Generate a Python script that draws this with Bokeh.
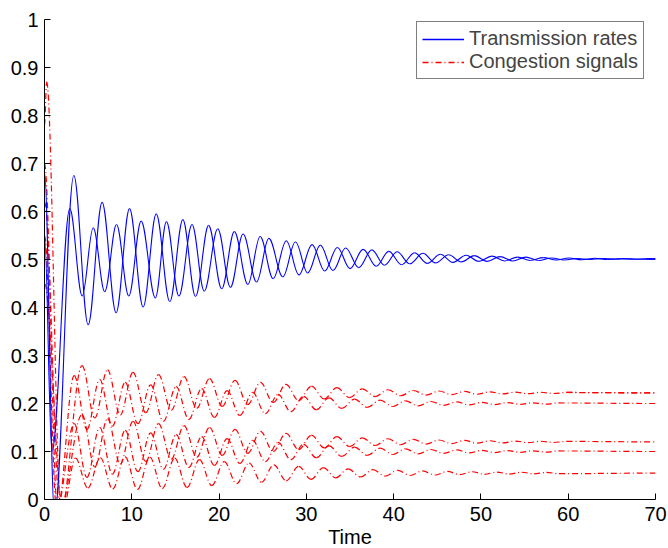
from bokeh.plotting import figure
from bokeh.models import Range1d, FixedTicker, ColumnDataSource, Legend, LegendItem
from bokeh.embed import file_html
from bokeh.resources import INLINE

# ---------------- data (extrema of each curve) ----------------
x_ticks = [0, 10, 20, 30, 40, 50, 60, 70]
x_tick_labels = ["0", "10", "20", "30", "40", "50", "60", "70"]
y_ticks = [0, 0.1, 0.2, 0.3, 0.4, 0.5, 0.6, 0.7, 0.8, 0.9, 1.0]
y_tick_labels = ["0", "0.1", "0.2", "0.3", "0.4", "0.5", "0.6", "0.7", "0.8", "0.9", "1"]

# Transmission rates (blue), source A
rate_a_t = [0, 1.15, 3.36, 5.0, 6.6, 8.2, 9.74, 11.3, 12.8, 14.35, 15.85, 17.3, 18.8, 20.3,
            21.75, 23.3, 24.7, 26.2, 27.7, 29.15, 30.65, 32.1, 33.55, 35.0, 36.5, 38.0, 39.45,
            40.9, 42.4, 43.85, 45.35, 46.8, 48.3, 49.75, 51.25, 52.7, 54.2, 55.65, 57.15, 58.6,
            60.1, 61.55, 63.05, 64.5, 66.0, 67.45, 68.95, 70]
rate_a_v = [0.68, -0.03, 0.675, 0.364, 0.619, 0.389, 0.606, 0.401, 0.595, 0.412, 0.583, 0.423,
            0.571, 0.439, 0.558, 0.448, 0.548, 0.46, 0.539, 0.468, 0.531, 0.476, 0.525, 0.481,
            0.521, 0.486, 0.517, 0.489, 0.514, 0.492, 0.511, 0.494, 0.509, 0.496, 0.507, 0.497,
            0.505, 0.498, 0.504, 0.499, 0.503, 0.4995, 0.5025, 0.5, 0.502, 0.5005, 0.5015, 0.501]

# Transmission rates (blue), source B
rate_b_t = [0, 0.85, 2.9, 4.32, 5.58, 6.9, 8.25, 9.66, 11.07, 12.7, 13.97, 15.4, 16.9, 18.3,
            19.85, 21.3, 22.75, 24.3, 25.7, 27.3, 28.75, 30.15, 31.6, 33.05, 34.5, 36.0, 37.5,
            38.95, 40.4, 41.85, 43.35, 44.8, 46.3, 47.75, 49.25, 50.7, 52.2, 53.65, 55.15, 56.6,
            58.1, 59.55, 61.05, 62.5, 64.0, 65.45, 66.95, 68.4, 70]
rate_b_v = [0.55, 0.1, 0.606, 0.424, 0.566, 0.433, 0.573, 0.424, 0.58, 0.42, 0.579, 0.424,
            0.573, 0.434, 0.564, 0.442, 0.553, 0.453, 0.544, 0.464, 0.537, 0.472, 0.530, 0.477,
            0.524, 0.483, 0.520, 0.488, 0.516, 0.491, 0.513, 0.493, 0.510, 0.495, 0.508, 0.496,
            0.506, 0.497, 0.505, 0.498, 0.503, 0.499, 0.502, 0.5, 0.502, 0.5005, 0.5015, 0.5005,
            0.501]

# Congestion signals (red), five links
sig1_t = [0, 0.25, 1.9, 4.30, 5.76, 7.22, 8.68, 10.14, 11.60, 13.06, 14.52, 15.98, 17.44,
          18.90, 20.36, 21.82, 23.28, 24.74, 26.20, 27.66, 29.12, 30.58, 32.04, 33.50, 34.96,
          36.42, 37.88, 39.34, 40.80, 42.26, 43.72, 45.18, 46.64, 48.10, 49.56, 51.02, 52.48,
          53.94, 55.40, 56.86, 58.32, 59.78, 70]
sig1_v = [0.78, 0.87, -0.02, 0.279, 0.170, 0.270, 0.176, 0.265, 0.181, 0.260, 0.186, 0.256,
          0.190, 0.252, 0.194, 0.248, 0.198, 0.244, 0.202, 0.240, 0.206, 0.236, 0.2095, 0.233,
          0.2123, 0.2305, 0.2145, 0.2286, 0.2162, 0.2271, 0.2175, 0.226, 0.2185, 0.2251, 0.2193,
          0.2244, 0.2199, 0.2238, 0.2204, 0.2234, 0.2208, 0.223, 0.222]

sig2_t = [0, 1.5, 3.4, 4.86, 6.32, 7.78, 9.24, 10.7, 12.16, 13.62, 15.08, 16.54, 18.0, 19.46,
          20.92, 22.38, 23.84, 25.3, 26.76, 28.22, 29.68, 31.14, 32.6, 34.06, 35.52, 36.98,
          38.44, 39.9, 41.36, 42.82, 44.28, 45.74, 47.2, 48.66, 50.12, 51.58, 53.04, 54.5,
          55.96, 57.42, 58.88, 70]
sig2_v = [0.70, -0.02, 0.258, 0.146, 0.250, 0.153, 0.244, 0.158, 0.239, 0.163, 0.235, 0.167,
          0.231, 0.171, 0.227, 0.175, 0.223, 0.179, 0.219, 0.183, 0.215, 0.187, 0.2118, 0.1897,
          0.209, 0.192, 0.207, 0.1938, 0.2055, 0.1952, 0.2042, 0.1963, 0.2033, 0.1971, 0.2025,
          0.1978, 0.2019, 0.1983, 0.2015, 0.1987, 0.2011, 0.200]

sig3_t = [0, 1.8, 4.30, 5.76, 7.22, 8.68, 10.14, 11.60, 13.06, 14.52, 15.98, 17.44, 18.90,
          20.36, 21.82, 23.28, 24.74, 26.20, 27.66, 29.12, 30.58, 32.04, 33.50, 34.96, 36.42,
          37.88, 39.34, 40.80, 42.26, 43.72, 45.18, 46.64, 48.10, 49.56, 51.02, 52.48, 53.94,
          55.40, 56.86, 58.32, 59.78, 70]
sig3_v = [0.62, -0.02, 0.177, 0.068, 0.168, 0.074, 0.163, 0.079, 0.158, 0.084, 0.154, 0.088,
          0.150, 0.092, 0.146, 0.096, 0.142, 0.100, 0.138, 0.104, 0.134, 0.1075, 0.131, 0.1103,
          0.1285, 0.1125, 0.1266, 0.1142, 0.1251, 0.1155, 0.124, 0.1165, 0.1231, 0.1173, 0.1224,
          0.1179, 0.1218, 0.1184, 0.1214, 0.1188, 0.121, 0.120]

sig4_t = [0, 1.4, 3.4, 4.86, 6.32, 7.78, 9.24, 10.7, 12.16, 13.62, 15.08, 16.54, 18.0, 19.46,
          20.92, 22.38, 23.84, 25.3, 26.76, 28.22, 29.68, 31.14, 32.6, 34.06, 35.52, 36.98,
          38.44, 39.9, 41.36, 42.82, 44.28, 45.74, 47.2, 48.66, 50.12, 51.58, 53.04, 54.5,
          55.96, 57.42, 58.88, 70]
sig4_v = [0.55, -0.02, 0.158, 0.046, 0.150, 0.053, 0.144, 0.058, 0.139, 0.063, 0.135, 0.067,
          0.131, 0.071, 0.127, 0.075, 0.123, 0.079, 0.119, 0.083, 0.115, 0.087, 0.1118, 0.0897,
          0.109, 0.092, 0.107, 0.0938, 0.1055, 0.0952, 0.1042, 0.0963, 0.1033, 0.0971, 0.1025,
          0.0978, 0.1019, 0.0983, 0.1015, 0.0987, 0.1011, 0.100]

sig5_t = [0, 2.1, 3.55, 4.97, 6.39, 7.81, 9.23, 10.65, 12.07, 13.49, 14.91, 16.33, 17.75,
          19.17, 20.59, 22.01, 23.43, 24.85, 26.27, 27.69, 29.11, 30.53, 31.95, 33.37, 34.79,
          36.21, 37.63, 39.05, 40.47, 41.89, 43.31, 44.73, 46.15, 47.57, 48.99, 50.41, 51.83,
          53.25, 54.67, 56.09, 57.51, 58.93, 70]
sig5_v = [0.45, -0.02, 0.086, 0.024, 0.087, 0.022, 0.089, 0.021, 0.088, 0.023, 0.086, 0.025,
          0.083, 0.029, 0.079, 0.033, 0.076, 0.036, 0.072, 0.039, 0.069, 0.042, 0.0665, 0.045,
          0.064, 0.047, 0.0622, 0.0486, 0.0607, 0.05, 0.0595, 0.051, 0.0585, 0.0519, 0.0578,
          0.0525, 0.0572, 0.053, 0.0568, 0.0534, 0.0564, 0.0538, 0.055]

series_labels = ["Transmission rates", "Congestion signals"]

# ---------------- figure ----------------
FONT = "Liberation Sans"
p = figure(frame_width=611, frame_height=480,
           x_range=Range1d(0, 70), y_range=Range1d(0, 1),
           output_backend="svg", toolbar_location=None,
           min_border_left=44, min_border_right=12, min_border_top=19, min_border_bottom=48)
p.outline_line_color = None
p.grid.visible = False
p.background_fill_color = "white"
p.border_fill_color = "white"


def smooth_source(ts, vs, k=0.36):
    x0 = ts[:-1]
    x1 = ts[1:]
    cx0 = [a + k * (b - a) for a, b in zip(x0, x1)]
    cx1 = [b - k * (b - a) for a, b in zip(x0, x1)]
    return ColumnDataSource(dict(x0=x0, y0=vs[:-1], x1=x1, y1=vs[1:],
                                 cx0=cx0, cy0=vs[:-1], cx1=cx1, cy1=vs[1:]))


RED = "#ff0000"
BLUE = "#0000ff"
DASH = "6 3 1 3"
for ts, vs in [(sig1_t, sig1_v), (sig2_t, sig2_v), (sig3_t, sig3_v),
               (sig4_t, sig4_v), (sig5_t, sig5_v)]:
    p.bezier(x0="x0", y0="y0", x1="x1", y1="y1", cx0="cx0", cy0="cy0", cx1="cx1", cy1="cy1",
             source=smooth_source(ts, vs), line_color=RED, line_width=1.2, line_dash=DASH)

for ts, vs in [(rate_a_t, rate_a_v), (rate_b_t, rate_b_v)]:
    p.bezier(x0="x0", y0="y0", x1="x1", y1="y1", cx0="cx0", cy0="cy0", cx1="cx1", cy1="cy1",
             source=smooth_source(ts, vs), line_color=BLUE, line_width=1.1)

# plain line renderers over the final (flat) stretch of a series, used as legend samples
leg_rate = p.line(x=rate_a_t[-2:], y=rate_a_v[-2:], line_color=BLUE, line_width=1.3,
                  line_dash="solid")
leg_sig = p.line(x=sig1_t[-2:], y=sig1_v[-2:], line_color=RED, line_width=1.3, line_dash=DASH)

legend = Legend(items=[LegendItem(label=series_labels[0], renderers=[leg_rate]),
                       LegendItem(label=series_labels[1], renderers=[leg_sig])],
                location=(372, 420))
legend.margin = 0
legend.padding = 5
legend.spacing = 0
legend.label_text_font = FONT
legend.label_text_font_size = "20px"
legend.label_height = 22
legend.glyph_height = 22
legend.glyph_width = 42
legend.label_standoff = 5
legend.border_line_color = "black"
legend.border_line_width = 1
legend.background_fill_color = "white"
legend.background_fill_alpha = 1.0
p.add_layout(legend)

# axes
p.xaxis.ticker = FixedTicker(ticks=x_ticks)
p.xaxis.major_label_overrides = {t: s for t, s in zip(x_ticks, x_tick_labels)}
p.yaxis.ticker = FixedTicker(ticks=y_ticks)
p.yaxis.major_label_overrides = {t: s for t, s in zip(y_ticks, y_tick_labels)}
for ax in (p.xaxis, p.yaxis):
    ax.major_tick_in = 6
    ax.major_tick_out = 0
    ax.minor_tick_in = 0
    ax.minor_tick_out = 0
    ax.axis_line_color = "black"
    ax.major_tick_line_color = "black"
    ax.major_label_text_font = FONT
    ax.major_label_text_font_size = "20px"
    ax.major_label_text_color = "black"
p.xaxis.major_label_standoff = 7
p.yaxis.major_label_standoff = 6
p.xaxis.axis_label = "Time"
p.xaxis.axis_label_text_font = FONT
p.xaxis.axis_label_text_font_size = "20px"
p.xaxis.axis_label_text_font_style = "normal"
p.xaxis.axis_label_text_color = "black"
p.xaxis.axis_label_standoff = 2

open("out.html", "w").write(file_html(p, INLINE))
